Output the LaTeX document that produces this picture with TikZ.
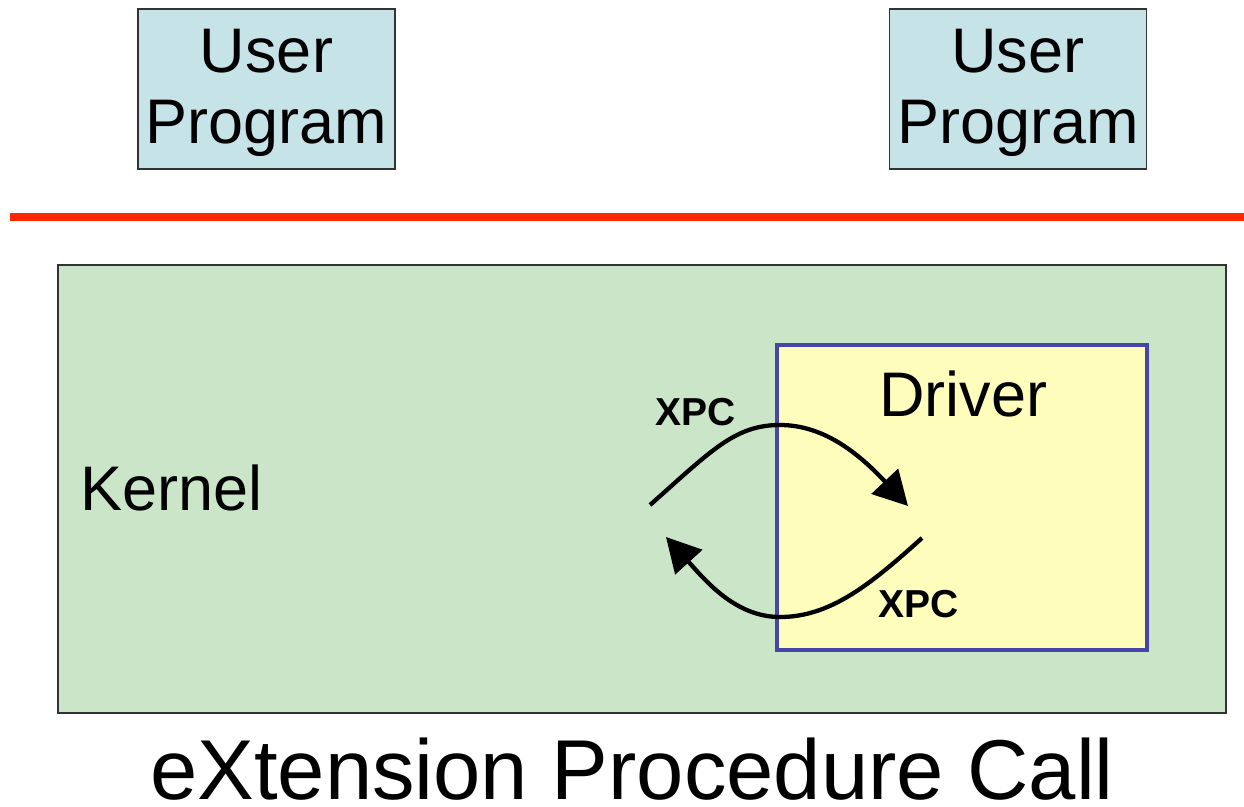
\documentclass[tikz,border=0pt]{standalone}
\usepackage{fontspec}
\setmainfont{Liberation Sans}
\usetikzlibrary{arrows.meta}
\definecolor{userfill}{HTML}{C6E4E8}
\definecolor{kernfill}{HTML}{CBE5C9}
\definecolor{drvfill}{HTML}{FFFDBB}
\definecolor{drvline}{HTML}{4646A8}
\definecolor{sepred}{HTML}{FF2800}
\definecolor{boxline}{HTML}{333333}
\tikzset{
  userbox/.style={draw=boxline, line width=1.6pt, fill=userfill, inner sep=0pt,
    minimum width=257pt, minimum height=160pt, align=center,
    font=\fontsize{63}{72}\selectfont},
  bigtext/.style={inner sep=0pt, anchor=base west, font=\fontsize{63}{72}\selectfont},
  xpctext/.style={inner sep=0pt, anchor=base west, font=\fontsize{39}{44}\selectfont\bfseries},
  callarrow/.style={line width=4.3pt, -{Triangle[length=34pt, width=36pt]}},
}
\begin{document}
\begin{tikzpicture}[x=1pt, y=-1pt]
  \useasboundingbox (0,0) rectangle (1244,806);

  % user space
  \node[userbox] (up1) at (266.5,89) {};
  \node[userbox] (up2) at (1018,89) {};
  \node[bigtext, anchor=base] (up1a) at (266.5,72) {User};
  \node[bigtext, anchor=base] (up1b) at (266.5,143.5) {Program};
  \node[bigtext, anchor=base] (up2a) at (1018,72) {User};
  \node[bigtext, anchor=base] (up2b) at (1018,143.5) {Program};

  % user / kernel boundary
  \coordinate (sepL) at (10,217);
  \coordinate (sepR) at (1244,217);
  \draw[sepred, line width=8pt] (sepL) -- (sepR);

  % kernel and driver
  \node[draw=boxline, line width=1.6pt, fill=kernfill, inner sep=0pt,
        minimum width=1168pt, minimum height=448pt] (kernel) at (642,489) {};
  \node[draw=drvline, line width=4pt, fill=drvfill, inner sep=0pt,
        minimum width=370pt, minimum height=305pt] (driver) at (962,497.5) {};

  \node[bigtext] (kernlbl) at (80,510) {Kernel};
  \node[bigtext] (drvlbl) at (879,416) {Driver};

  % extension procedure calls
  \coordinate (a1) at (650,505);
  \coordinate (a2) at (908,506);
  \coordinate (b1) at (922,538);
  \coordinate (b2) at (666,537);
  \draw[callarrow] (a1) .. controls (712,450) and (735,425) .. (780,425)
                        .. controls (825,425) and (860,455) .. (a2);
  \draw[callarrow] (b1) .. controls (870,585) and (830,617) .. (780,617)
                        .. controls (735,617) and (705,580) .. (b2);
  \node[xpctext] (xpc1) at (655,425) {XPC};
  \node[xpctext] (xpc2) at (878,617) {XPC};

  % caption
  \node[inner sep=0pt, anchor=base west, font=\fontsize{85}{96}\selectfont]
    (caption) at (150,799) {eXtension Procedure Call};
\end{tikzpicture}
\end{document}
